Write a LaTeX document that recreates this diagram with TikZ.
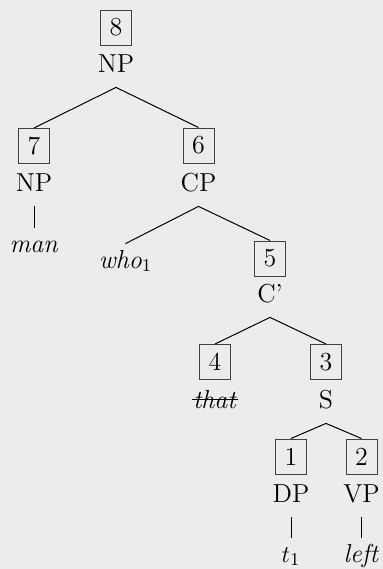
\documentclass[tikz,border=0pt]{standalone}
\definecolor{bgc}{RGB}{236,236,236}
\newcommand{\strikeit}[1]{\setbox0\hbox{#1}\rlap{\kern-0.6pt\rule[0.72ex]{\dimexpr\wd0+1pt\relax}{0.5pt}}\box0}
\begin{document}
\begin{tikzpicture}[x=0.5pt,y=-0.5pt,
  every node/.style={font=\fontsize{13}{15.6}\selectfont},
  numbox/.style={draw=black!75,line width=0.5pt,minimum width=15.5pt,minimum height=17.5pt,inner sep=0pt},
  cat/.style={anchor=base,inner sep=0pt,text depth=7.5pt},
  leaf/.style={anchor=base,inner sep=0pt,text height=12pt},
  branch/.style={draw=black,line width=0.5pt}]
\fill[bgc] (0,0) rectangle (383,569);
\useasboundingbox (0,0) rectangle (383,569);
% nodes
\node[numbox] (b8) at (116,27.5) {8};
\node[cat] (l8) at (116,72) {NP};
\node[numbox] (b7) at (34,146) {7};
\node[cat] (l7) at (34,191) {NP};
\node[leaf] (man) at (34,252) {\textit{man}};
\node[numbox] (b6) at (198.5,145.5) {6};
\node[cat] (l6) at (198.5,191) {CP};
\node[leaf] (who) at (125.5,268) {\textit{who}$_1$};
\node[numbox] (b5) at (270,258.5) {5};
\node[cat] (l5) at (270,302) {C'};
\node[numbox] (b4) at (215,362) {4};
\node[cat] (l4) at (215,408) {\strikeit{\textit{that}}};
\node[numbox] (b3) at (326,362) {3};
\node[cat] (l3) at (326,408) {S};
\node[numbox] (b1) at (291,456.5) {1};
\node[cat] (l1) at (291,502) {DP};
\node[leaf] (t1) at (291,562) {$t_1$};
\node[numbox] (b2) at (361.5,456.5) {2};
\node[cat] (l2) at (361.5,502) {VP};
\node[leaf] (left) at (361.5,562) {\textit{left}};
% branches
\draw[branch] (l8.south) -- (b7.north);
\draw[branch] (l8.south) -- (b6.north);
\draw[branch] (l7.south) -- (man.north);
\draw[branch] (l6.south) -- (who.north);
\draw[branch] (l6.south) -- (b5.north);
\draw[branch] (l5.south) -- (b4.north);
\draw[branch] (l5.south) -- (b3.north);
\draw[branch] (l3.south) -- (b1.north);
\draw[branch] (l3.south) -- (b2.north);
\draw[branch] (l1.south) -- (t1.north);
\draw[branch] (l2.south) -- (left.north);
\end{tikzpicture}
\end{document}
